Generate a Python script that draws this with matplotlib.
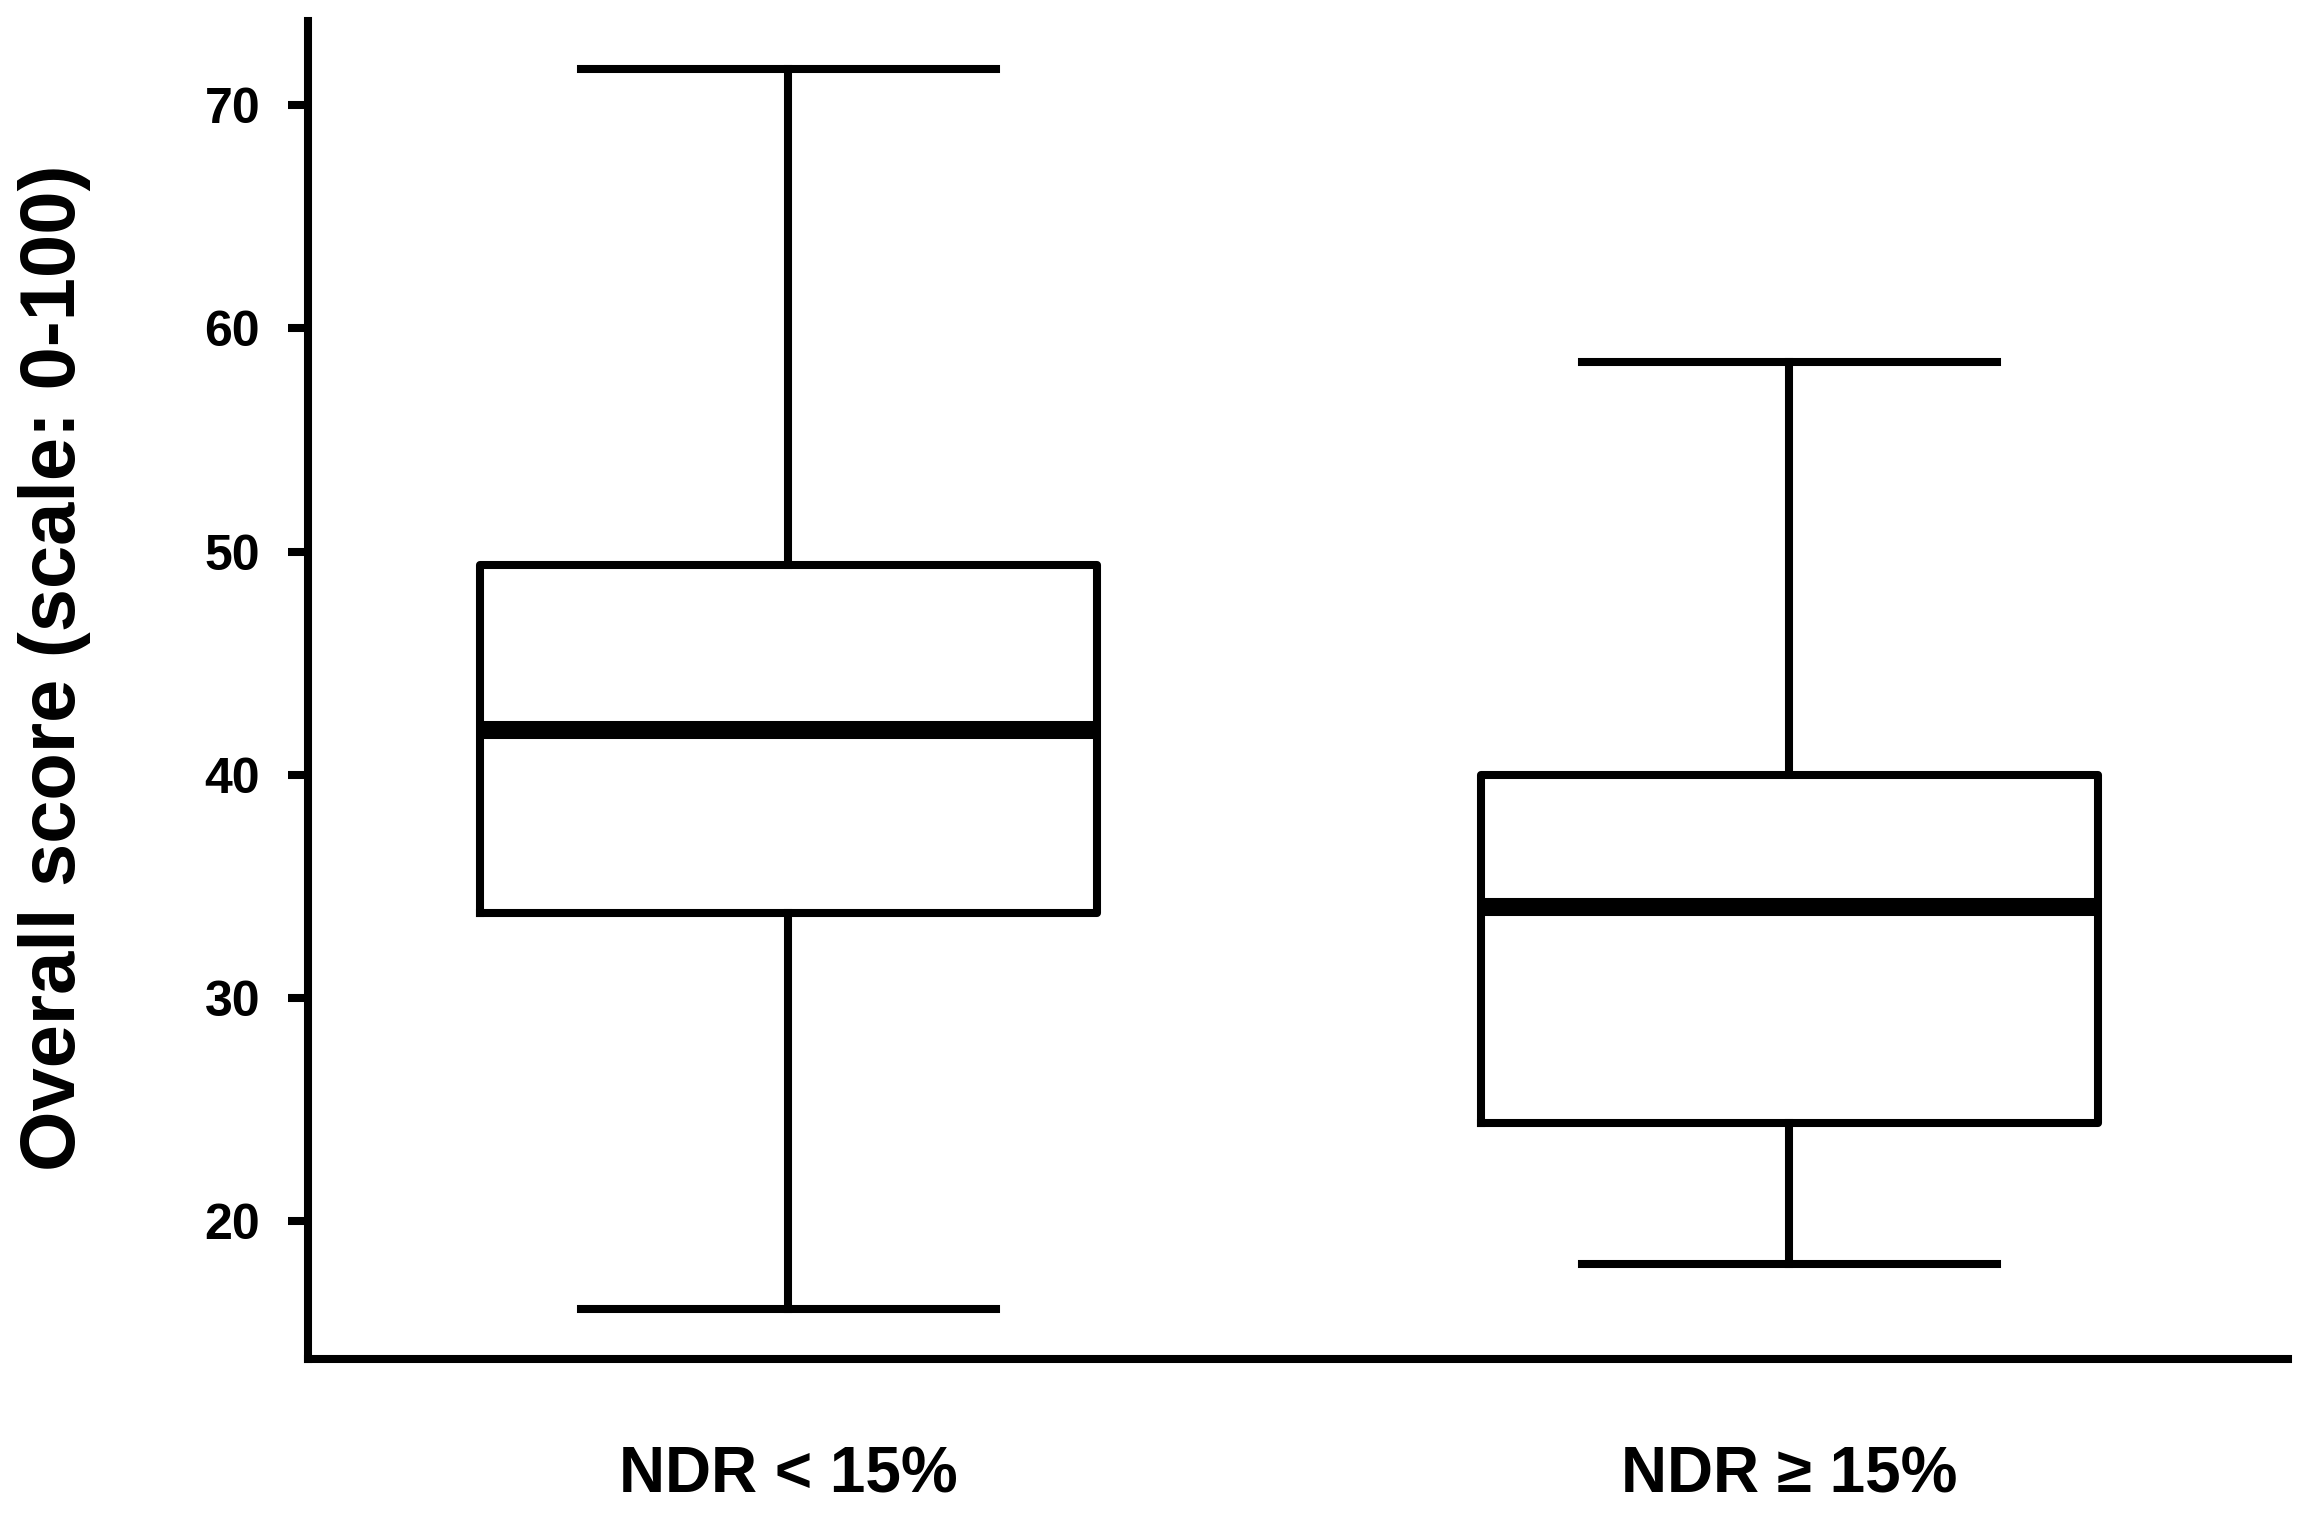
import matplotlib
matplotlib.use("Agg")
import matplotlib.pyplot as plt

categories = ["NDR < 15%", "NDR \u2265 15%"]
whisker_low = [16.1, 18.1]
q1 = [33.8, 24.4]
median = [42.0, 34.1]
q3 = [49.4, 40.0]
whisker_high = [71.6, 58.5]
yticks = [20, 30, 40, 50, 60, 70]

plt.rcParams['font.family'] = ['Liberation Sans', 'DejaVu Sans']

fig = plt.figure(figsize=(23.07, 15.26), dpi=100)
ax = fig.add_axes([308/2307, 1-1359/1526, (2288-308)/2307, (1359-21)/1526])

stats = []
for i, c in enumerate(categories):
    stats.append(dict(label=c, whislo=whisker_low[i], q1=q1[i], med=median[i],
                      q3=q3[i], whishi=whisker_high[i], fliers=[]))

lw = 5.8
ax.bxp(stats, positions=[1, 2], widths=0.616, capwidths=0.414, showfliers=False,
       boxprops=dict(color='black', linewidth=lw),
       whiskerprops=dict(color='black', linewidth=lw),
       capprops=dict(color='black', linewidth=lw),
       medianprops=dict(color='black', linewidth=13, solid_capstyle='butt'))

ax.set_xlim(0.52, 2.498)
ax.set_ylim(13.84, 73.76)
ax.set_yticks(yticks)
ax.set_yticklabels([str(t) for t in yticks], fontsize=36, fontweight='bold')
ax.set_xticks([1, 2])
ax.set_xticklabels(categories, fontsize=46, fontweight='bold')
ax.tick_params(axis='y', length=14.5, width=5.8, pad=20)
ax.tick_params(axis='x', length=0, pad=62)

for s in ['top', 'right']:
    ax.spines[s].set_visible(False)
for s in ['left', 'bottom']:
    ax.spines[s].set_linewidth(5.8)
    ax.spines[s].set_color('black')

fig.text(55/2307, 1-668/1526, "Overall score (scale: 0-100)", rotation=90,
         ha='center', va='center', fontsize=56, fontweight='bold')

fig.savefig("out.png", dpi=100, facecolor='white')
